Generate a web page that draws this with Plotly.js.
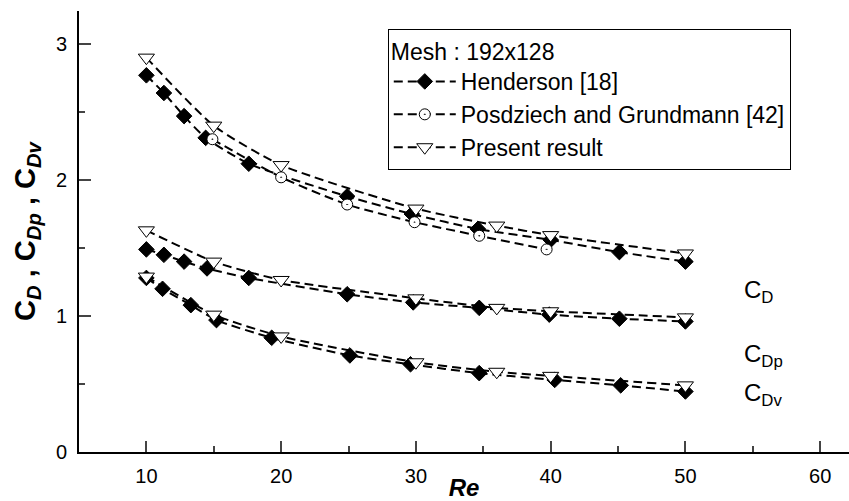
<!DOCTYPE html>
<html>
<head>
<meta charset="utf-8">
<script src="https://cdn.plot.ly/plotly-3.0.1.min.js"></script>
<style>html,body{margin:0;padding:0;background:#fff;}#chart{width:849px;height:501px;}</style>
</head>
<body>
<div id="chart"></div>
<script>
// Henderson [18]
var hendCD_re  = [10, 11.3, 12.8, 14.4, 17.6, 24.9, 29.7, 34.6, 40, 45.1, 50];
var hendCD     = [2.77, 2.64, 2.47, 2.31, 2.12, 1.88, 1.75, 1.64, 1.56, 1.47, 1.40];
var hendCDp_re = [10, 11.3, 12.8, 14.5, 17.6, 24.9, 29.8, 34.7, 39.9, 45.1, 50];
var hendCDp    = [1.49, 1.45, 1.40, 1.35, 1.28, 1.16, 1.10, 1.06, 1.01, 0.98, 0.96];
var hendCDv_re = [10, 11.2, 13.3, 15.2, 19.3, 25.1, 29.6, 34.7, 40.3, 45.2, 50];
var hendCDv    = [1.28, 1.20, 1.08, 0.97, 0.84, 0.71, 0.645, 0.58, 0.53, 0.49, 0.445];
// Posdziech and Grundmann [42]
var posCD_re   = [14.9, 20, 24.9, 29.9, 34.7, 39.7];
var posCD      = [2.30, 2.02, 1.82, 1.69, 1.59, 1.49];
// Present result
var presRe     = [10, 15, 20, 30, 36, 40, 50];
var presCD     = [2.90, 2.40, 2.11, 1.79, 1.665, 1.595, 1.46];
var presCDp    = [1.63, 1.40, 1.265, 1.13, 1.06, 1.035, 0.99];
var presCDv    = [1.29, 1.01, 0.85, 0.66, 0.59, 0.56, 0.49];

var legendTitle = 'Mesh : 192x128';
var names = ['Henderson [18]', 'Posdziech and Grundmann [42]', 'Present result'];
var curveLabels = ['C<sub>D</sub>', 'C<sub>Dp</sub>', 'C<sub>Dv</sub>'];
var curveLabelY = [1.18, 0.71, 0.42];

var dashLine = {color: '#000', width: 2, dash: '9px,5px', shape: 'spline', smoothing: 0.6};
var mk = [
  {symbol: 'diamond', size: 12, color: '#000', line: {color: '#000', width: 1}},
  {symbol: 'circle-dot', size: 11, color: '#fff', line: {color: '#000', width: 1}},
  {symbol: 'triangle-down', size: 14, color: '#fff', line: {color: '#000', width: 1}}
];
function tr(x, y, g, show) {
  return {x: x, y: y, type: 'scatter', mode: 'lines+markers', name: names[g],
    legendgroup: 'g' + g, showlegend: show, line: dashLine, marker: mk[g], cliponaxis: false};
}
var data = [
  tr(hendCD_re, hendCD, 0, true),
  tr(hendCDp_re, hendCDp, 0, false),
  tr(hendCDv_re, hendCDv, 0, false),
  tr(posCD_re, posCD, 1, true),
  tr(presRe, presCD, 2, true),
  tr(presRe, presCDp, 2, false),
  tr(presRe, presCDv, 2, false)
];

var F = 'Arial, "Liberation Sans", sans-serif';
var annotations = curveLabels.map(function (t, i) {
  return {text: t, xref: 'paper', yref: 'y', x: 0.861, y: curveLabelY[i], xanchor: 'left', yanchor: 'middle',
    showarrow: false, font: {family: F, size: 24, color: '#000'}};
});

var layout = {
  width: 849, height: 501,
  margin: {l: 79, r: 0, t: 11, b: 49},
  paper_bgcolor: '#fff', plot_bgcolor: '#fff',
  font: {family: F, color: '#000'},
  showlegend: true,
  legend: {
    x: 0.401, y: 0.959, xanchor: 'left', yanchor: 'top',
    bordercolor: '#000', borderwidth: 1, bgcolor: '#fff',
    font: {family: F, size: 23, color: '#000'},
    title: {text: legendTitle, font: {family: F, size: 23, color: '#000'}},
    traceorder: 'grouped', tracegroupgap: 0, itemwidth: 62
  },
  xaxis: {
    range: [5, 62.14], dtick: 10, tick0: 0, ticks: 'inside', ticklen: 11, tickwidth: 2,
    minor: {dtick: 5, ticks: 'inside', ticklen: 6, tickwidth: 2},
    showline: true, linewidth: 2, linecolor: '#000', showgrid: false, zeroline: false,
    tickfont: {family: F, size: 20, color: '#000'}, ticklabelstandoff: 5,
    title: {text: '<b><i>Re</i></b>', font: {family: F, size: 24, color: '#000'}, standoff: 0}
  },
  xaxis2: {
    overlaying: 'x', matches: 'x', side: 'top', anchor: 'y', range: [5, 62.14], dtick: 5, tick0: 0,
    ticks: 'inside', ticklen: 3, tickwidth: 1, showticklabels: false,
    showline: true, linewidth: 2, linecolor: '#000', showgrid: false, zeroline: false
  },
  yaxis: {
    range: [0, 3.243], dtick: 1, tick0: 0, ticks: 'inside', ticklen: 12, tickwidth: 2,
    minor: {dtick: 0.5, ticks: 'inside', ticklen: 6, tickwidth: 2},
    showline: true, linewidth: 2, linecolor: '#000', showgrid: false, zeroline: false,
    tickfont: {family: F, size: 20, color: '#000'}, ticklabelstandoff: 6,
    title: {text: '<b>C<sub><i>D</i></sub> , C<sub><i>Dp</i></sub> , C<sub><i>Dv</i></sub></b>',
      font: {family: F, size: 29, color: '#000'}, standoff: 12}
  },
  annotations: annotations
};
Plotly.newPlot('chart', data, layout, {staticPlot: true});
</script>
</body>
</html>
